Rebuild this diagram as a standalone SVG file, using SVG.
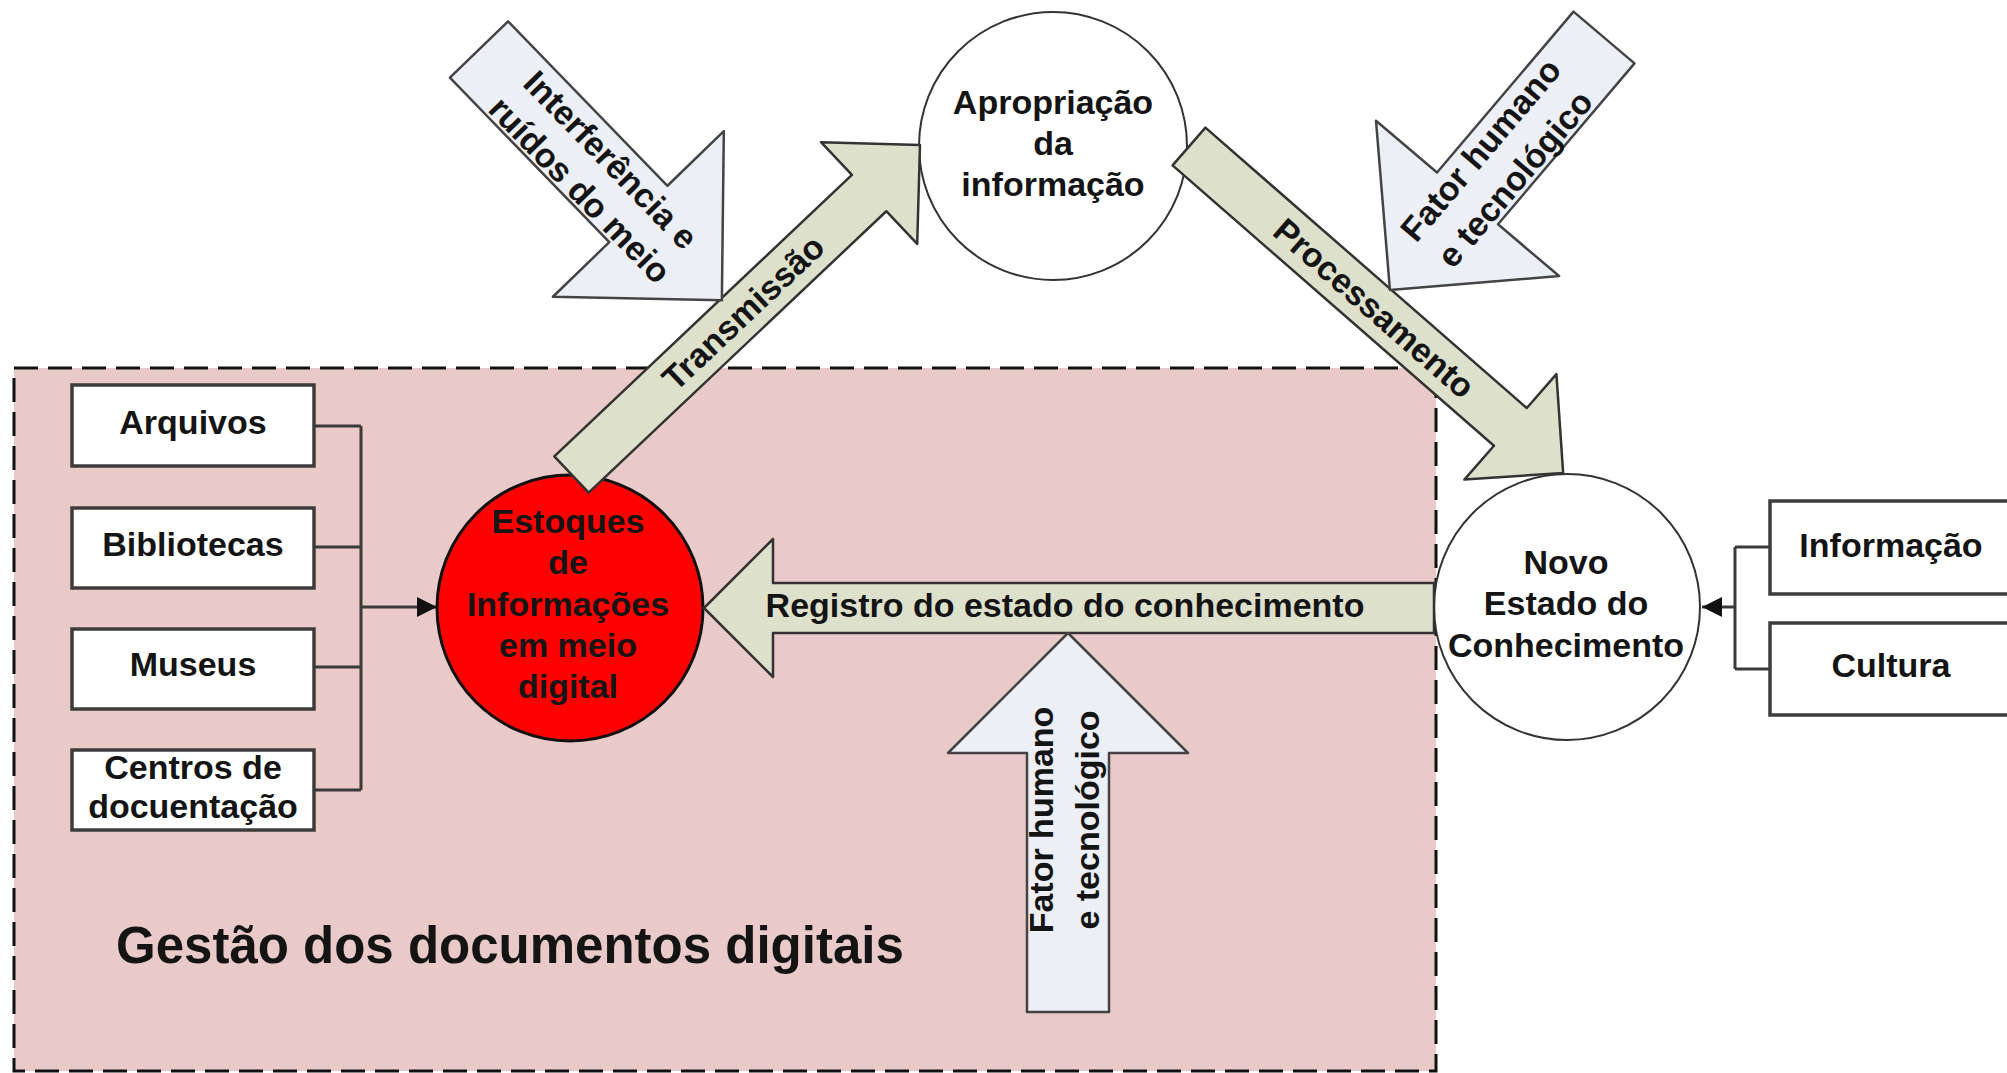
<svg xmlns="http://www.w3.org/2000/svg" width="2007" height="1073" viewBox="0 0 2007 1073">
<style>
.t{font-family:"Liberation Sans",Arial,sans-serif;font-weight:bold;font-size:34px;fill:#141414;text-anchor:middle}
.big{font-size:51px;text-anchor:start}
.box{fill:#fff;stroke:#3c3c3c;stroke-width:3.5}
.circ{fill:#fff;stroke:#333;stroke-width:2}
.red{fill:#ff0000;stroke:#111;stroke-width:3}
.ga{fill:#dde0cb;stroke:#333;stroke-width:2.5;stroke-linejoin:round}
.ba{fill:#eceff5;stroke:#444;stroke-width:2.5;stroke-linejoin:round}
.conn{fill:none;stroke:#3a3a3a;stroke-width:3}
.zone{fill:#e9cac8;stroke:#111;stroke-width:3;stroke-dasharray:24 10}
</style>
<defs>
<marker id="ah" viewBox="0 0 10 10" refX="10" refY="5" markerWidth="20" markerHeight="22" markerUnits="userSpaceOnUse" orient="auto">
<path d="M0,0 L10,5 L0,10 z" fill="#111"/>
</marker>
</defs>

<g id="zone-gestao">
<rect class="zone" x="14" y="368" width="1422" height="703"/>
<text class="t big" x="116" y="963">Gestão dos documentos digitais</text>
</g>

<g id="connectors">
<path class="conn" d="M314,426 H361 M314,547 H361 M314,667 H361 M314,790 H361 M361,426 V790"/>
<path class="conn" d="M361,607 H437" marker-end="url(#ah)"/>
<path class="conn" d="M1770,547 H1735 M1770,669 H1735 M1735,547 V669"/>
<path class="conn" d="M1735,607 H1702" marker-end="url(#ah)"/>
</g>

<g id="node-arquivos"><rect class="box" x="72" y="385" width="242" height="81"/><text class="t" x="193" y="434">Arquivos</text></g>
<g id="node-bibliotecas"><rect class="box" x="72" y="508" width="242" height="80"/><text class="t" x="193" y="556">Bibliotecas</text></g>
<g id="node-museus"><rect class="box" x="72" y="629" width="242" height="80"/><text class="t" x="193" y="676">Museus</text></g>
<g id="node-centros"><rect class="box" x="72" y="750" width="242" height="80"/><text class="t" x="193" y="779">Centros de</text><text class="t" x="193" y="818">docuentação</text></g>

<g id="node-informacao"><rect class="box" x="1770" y="501" width="245" height="93"/><text class="t" x="1891" y="557">Informação</text></g>
<g id="node-cultura"><rect class="box" x="1770" y="623" width="245" height="92"/><text class="t" x="1891" y="677">Cultura</text></g>

<g id="node-estoques"><circle class="red" cx="570" cy="608" r="133"/>
<text class="t" x="568" y="533">Estoques</text>
<text class="t" x="568" y="574">de</text>
<text class="t" x="568" y="616">Informações</text>
<text class="t" x="568" y="657">em meio</text>
<text class="t" x="568" y="698">digital</text>
</g>

<g id="node-apropriacao"><circle class="circ" cx="1053" cy="146" r="134"/>
<text class="t" x="1053" y="114">Apropriação</text>
<text class="t" x="1053" y="155">da</text>
<text class="t" x="1053" y="196">informação</text>
</g>

<g id="node-novo-estado"><circle class="circ" cx="1567" cy="607" r="133"/>
<text class="t" x="1566" y="574">Novo</text>
<text class="t" x="1566" y="615">Estado do</text>
<text class="t" x="1566" y="657">Conhecimento</text>
</g>

<g id="arrow-transmissao" transform="translate(571.5,474.5) rotate(-43.4)">
<polygon class="ga" points="0,-25 409.6,-25 409.6,-70 479.6,0 409.6,70 409.6,25 0,25"/>
<text class="t" x="236" y="12">Transmissão</text>
</g>

<g id="arrow-processamento" transform="translate(1189,146.5) rotate(41.1)">
<polygon class="ga" points="0,-25 426.5,-25 426.5,-70 496.5,0 426.5,70 426.5,25 0,25"/>
<text class="t" x="246" y="12">Processamento</text>
</g>

<g id="arrow-registro">
<polygon class="ga" points="1434,583 773,583 773,539 704,608 773,677 773,633 1434,633"/>
<text class="t" x="1065" y="617">Registro do estado do conhecimento</text>
</g>

<g id="arrow-interferencia" transform="translate(479,49.5) rotate(45.9)">
<polygon class="ba" points="0,-40.5 229,-40.5 229,-119 349,0 229,119 229,40.5 0,40.5"/>
<text class="t" x="171" y="-6">Interferência e</text>
<text class="t" x="171" y="37">ruídos do meio</text>
</g>

<g id="arrow-fator-topo">
<polygon class="ba" transform="translate(1604,37.5) rotate(130.3)" points="0,-40 211,-40 211,-120 331,0 211,120 211,40 0,40"/>
<g transform="translate(1498,164.5) rotate(-49.7)">
<text class="t" x="0" y="-11">Fator humano</text>
<text class="t" x="0" y="34">e tecnológico</text>
</g>
</g>

<g id="arrow-fator-baixo">
<polygon class="ba" points="1027,1012 1027,753 948,753 1068,633 1188,753 1109,753 1109,1012"/>
<g transform="translate(1068,820) rotate(-90)">
<text class="t" x="0" y="-15">Fator humano</text>
<text class="t" x="0" y="31">e tecnológico</text>
</g>
</g>
</svg>
